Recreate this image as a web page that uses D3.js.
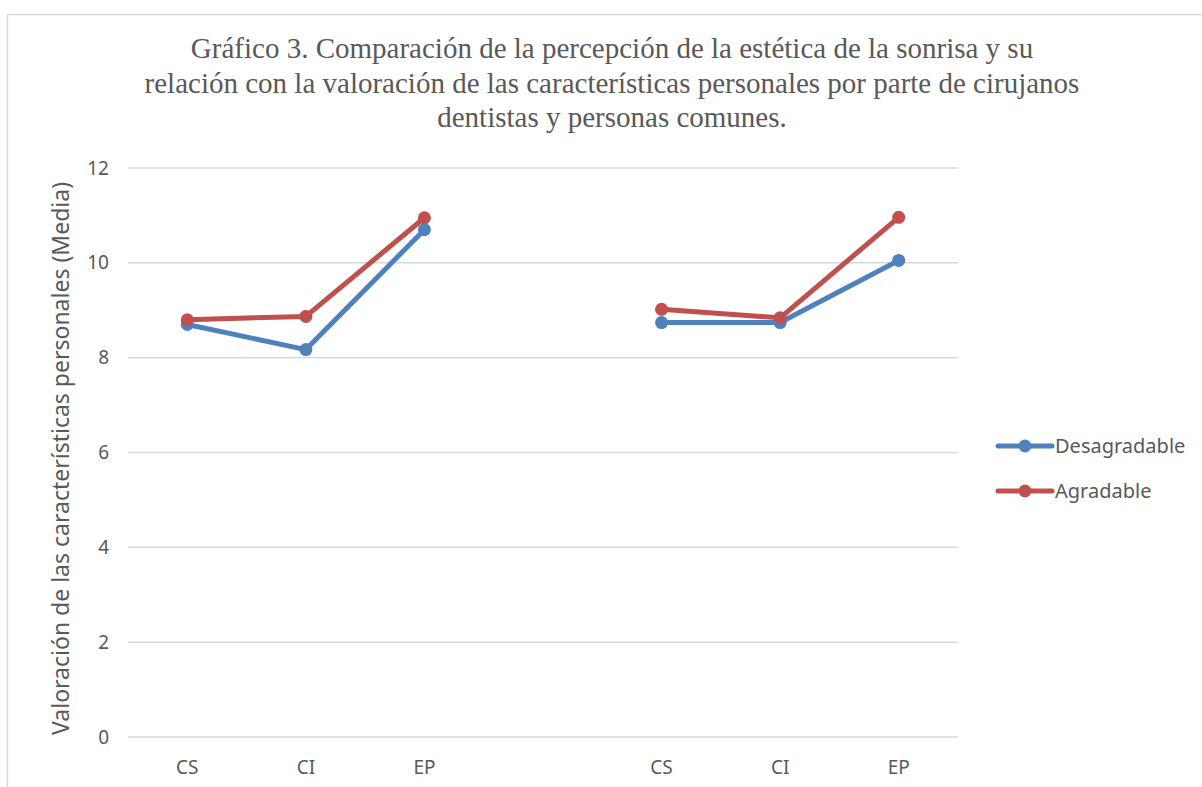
<!DOCTYPE html>
<html>
<head>
<meta charset="utf-8">
<script src="https://cdn.jsdelivr.net/npm/d3@7"></script>
<style>
  body { margin: 0; background: #fff; }
  svg { display: block; }
</style>
</head>
<body>
<svg width="1202" height="787"></svg>
<script>
// categories (the empty slot separates the two groups)
var categories = ["CS", "CI", "EP", "", "CS2", "CI2", "EP2"];
var tickLabels = { "CS": "CS", "CI": "CI", "EP": "EP", "": "", "CS2": "CS", "CI2": "CI", "EP2": "EP" };
var desagradable = [8.70, 8.17, 10.70, null, 8.74, 8.74, 10.05];
var agradable = [8.80, 8.87, 10.95, null, 9.02, 8.84, 10.96];
var yTicks = [0, 2, 4, 6, 8, 10, 12];
var titleLines = [
  "Gráfico 3. Comparación de la percepción de la estética de la sonrisa y su",
  "relación con la valoración de las características personales por parte de cirujanos",
  "dentistas y personas comunes."
];

var series = [
  { name: "Desagradable", color: "#4F81BD", values: desagradable },
  { name: "Agradable", color: "#C0504D", values: agradable }
];

var svg = d3.select("svg"),
    margin = { top: 168, right: 244, bottom: 50, left: 128 },
    width = 1202 - margin.left - margin.right,
    height = 787 - margin.top - margin.bottom,
    g = svg.append("g").attr("transform", "translate(" + margin.left + "," + margin.top + ")");

var sans = "Noto Sans, sans-serif",
    textColor = "#595959";

// chart border
svg.append("rect")
    .attr("x", 7.5).attr("y", 14.5)
    .attr("width", 1230).attr("height", 800)
    .attr("fill", "none")
    .attr("stroke", "#D9D9D9")
    .attr("stroke-width", 1.5);

// title
svg.append("text")
    .attr("text-anchor", "middle")
    .attr("fill", textColor)
    .style("font", "29px 'Liberation Serif', 'Times New Roman', serif")
    .selectAll("tspan")
    .data(titleLines)
    .enter().append("tspan")
    .attr("x", 612)
    .attr("y", function (d, i) { return 58 + i * 34.5; })
    .text(function (d) { return d; });

var xScale = d3.scaleBand().domain(categories).range([0, width]),
    yScale = d3.scaleLinear().domain([0, 12]).range([height, 0]);

// gridlines
g.selectAll(".grid")
    .data(yTicks)
    .enter().append("line")
    .attr("class", "grid")
    .attr("x1", 0).attr("x2", width)
    .attr("y1", function (d) { return yScale(d); })
    .attr("y2", function (d) { return yScale(d); })
    .attr("stroke", "#D9D9D9")
    .attr("stroke-width", 1.5);

// y axis
var yAxis = d3.axisLeft(yScale).tickValues(yTicks).tickSize(0).tickPadding(19);
var gY = g.append("g").call(yAxis);
gY.select(".domain").remove();
gY.selectAll("text")
    .attr("fill", textColor)
    .style("font", "19px " + sans);

// x axis
var xAxis = d3.axisBottom(xScale).tickSize(0).tickPadding(24)
    .tickFormat(function (d) { return tickLabels[d]; });
var gX = g.append("g").attr("transform", "translate(0," + height + ")").call(xAxis);
gX.select(".domain").remove();
gX.selectAll("text")
    .attr("fill", textColor)
    .style("font", "19px " + sans);

// axis title
svg.append("text")
    .attr("transform", "translate(69," + (margin.top + height / 2 + 6) + ") rotate(-90)")
    .attr("text-anchor", "middle")
    .attr("fill", textColor)
    .style("font", "23px " + sans)
    .text("Valoración de las características personales (Media)");

var line = d3.line()
    .defined(function (d) { return d != null; })
    .x(function (d, i) { return xScale(categories[i]) + xScale.bandwidth() / 2; })
    .y(function (d) { return yScale(d); });

var sg = g.selectAll(".series")
    .data(series)
    .enter().append("g")
    .attr("class", "series");

sg.append("path")
    .attr("d", function (d) { return line(d.values); })
    .attr("fill", "none")
    .attr("stroke", function (d) { return d.color; })
    .attr("stroke-width", 5)
    .attr("stroke-linejoin", "round")
    .attr("stroke-linecap", "round");

sg.selectAll("circle")
    .data(function (d) {
        return d.values.map(function (v, i) { return { v: v, i: i, color: d.color }; })
            .filter(function (p) { return p.v != null; });
    })
    .enter().append("circle")
    .attr("cx", function (p) { return xScale(categories[p.i]) + xScale.bandwidth() / 2; })
    .attr("cy", function (p) { return yScale(p.v); })
    .attr("r", 6.5)
    .attr("fill", function (p) { return p.color; });

// legend
var legend = svg.selectAll(".legend")
    .data(series)
    .enter().append("g")
    .attr("class", "legend")
    .attr("transform", function (d, i) { return "translate(998," + (446 + i * 45) + ")"; });

legend.append("line")
    .attr("x1", 0).attr("x2", 54)
    .attr("stroke", function (d) { return d.color; })
    .attr("stroke-width", 5)
    .attr("stroke-linecap", "round");

legend.append("circle")
    .attr("cx", 27).attr("r", 6.5)
    .attr("fill", function (d) { return d.color; });

legend.append("text")
    .attr("x", 57)
    .attr("dy", "0.35em")
    .attr("fill", textColor)
    .style("font", "20px " + sans)
    .text(function (d) { return d.name; });
</script>
</body>
</html>
